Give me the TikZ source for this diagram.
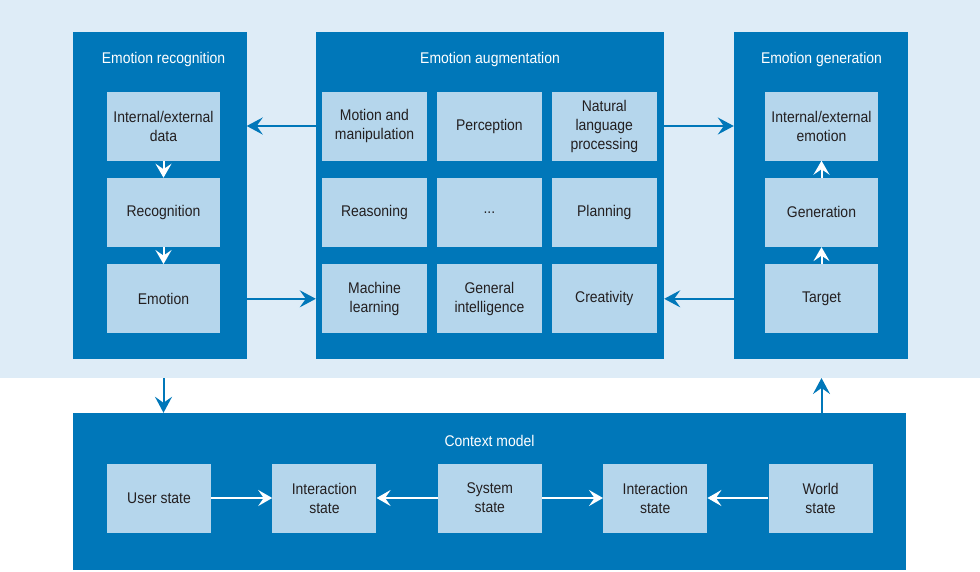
\documentclass[tikz,border=0pt]{standalone}
\usepackage{fontspec}
\setmainfont{Liberation Sans}[FakeStretch=0.9]
\usepackage{tikz}
\usetikzlibrary{arrows.meta, positioning}

\definecolor{dkblue}{HTML}{0077B9}
\definecolor{ltblue}{HTML}{B5D6EC}
\definecolor{bgblue}{HTML}{DEECF7}
\definecolor{txtgray}{HTML}{231F20}

\begin{document}
\begin{tikzpicture}[
    x=1pt, y=-1pt,
    node distance=17pt and 9.5pt,
    panel/.style={rectangle, fill=dkblue, inner sep=0pt},
    title/.style={text=white, font=\fontsize{15.5pt}{18.5pt}\selectfont},
    item/.style={rectangle, fill=ltblue, text=txtgray, align=center, inner sep=0pt,
        minimum width=113pt, minimum height=69pt, font=\fontsize{15.5pt}{19pt}\selectfont},
    arrow/.style={draw=dkblue, line width=2pt, -{Stealth[length=16pt, width=17pt, inset=6pt]}},
    warrow/.style={draw=white, line width=2pt, -{Stealth[length=14pt, width=16pt, inset=5.5pt]}}
]
    \useasboundingbox (0,0) rectangle (980,571);
    \fill [bgblue] (0,0) rectangle (980,378);
    \coordinate (bandbot) at (0,378);

    \node (recog) [panel, minimum width=174pt, minimum height=327pt] at (159.5,195.5) {};
    \node (augment) [panel, minimum width=348pt, minimum height=327pt] at (490,195.5) {};
    \node (gener) [panel, minimum width=174pt, minimum height=327pt] at (821,195.5) {};
    \node (context) [panel, minimum width=833pt, minimum height=157pt] at (489.5,491.5) {};

    \node (recogtitle) [title] at (163.5,59) {Emotion recognition};
    \node (augtitle) [title] at (490,59) {Emotion augmentation};
    \node (genertitle) [title] at (821.5,59) {Emotion generation};
    \node (contexttitle) [title] at (489.5,441) {Context model};

    \node (indata) [item] at (163.5,126) {Internal/external\\data};
    \node (recognition) [item, below=of indata] {Recognition};
    \node (emotion) [item, below=of recognition] {Emotion};

    \node (motion) [item, minimum width=105pt] at (374.5,126) {Motion and\\manipulation};
    \node (perception) [item, minimum width=105pt, right=of motion] {Perception};
    \node (natural) [item, minimum width=105pt, right=of perception] {Natural\\language\\processing};
    \node (reasoning) [item, minimum width=105pt, below=of motion] {Reasoning};
    \node (dots) [item, minimum width=105pt, below=of perception] {...};
    \node (planning) [item, minimum width=105pt, below=of natural] {Planning};
    \node (machine) [item, minimum width=105pt, below=of reasoning] {Machine\\learning};
    \node (general) [item, minimum width=105pt, below=of dots] {General\\intelligence};
    \node (creativity) [item, minimum width=105pt, below=of planning] {Creativity};

    \node (outemotion) [item] at (821.5,126) {Internal/external\\emotion};
    \node (generation) [item, below=of outemotion] {Generation};
    \node (target) [item, below=of generation] {Target};

    \node (user) [item, minimum width=104pt] at (159,498) {User state};
    \node (inter1) [item, minimum width=104pt, right=61pt of user] {Interaction\\state};
    \node (system) [item, minimum width=104pt, right=61pt of inter1] {System\\state};
    \node (inter2) [item, minimum width=104pt, right=61pt of system] {Interaction\\state};
    \node (world) [item, minimum width=104pt, right=61pt of inter2] {World\\state};

    \draw [warrow] (indata) -- (recognition);
    \draw [warrow] (recognition) -- (emotion);
    \draw [warrow] (target) -- (generation);
    \draw [warrow] (generation) -- (outemotion);

    \draw [arrow] (augment.west |- motion) -- (recog.east |- motion);
    \draw [arrow] (augment.east |- natural) -- (gener.west |- natural);
    \draw [arrow] (recog.east |- emotion) -- (augment.west |- emotion);
    \draw [arrow] (gener.west |- target) -- (augment.east |- target);
    \draw [arrow] (emotion |- bandbot) -- (emotion |- context.north);
    \draw [arrow] (target |- context.north) -- (target |- bandbot);

    \draw [warrow] (user) -- (inter1);
    \draw [warrow] (system) -- (inter1);
    \draw [warrow] (system) -- (inter2);
    \draw [warrow] (world) -- (inter2);
\end{tikzpicture}
\end{document}
